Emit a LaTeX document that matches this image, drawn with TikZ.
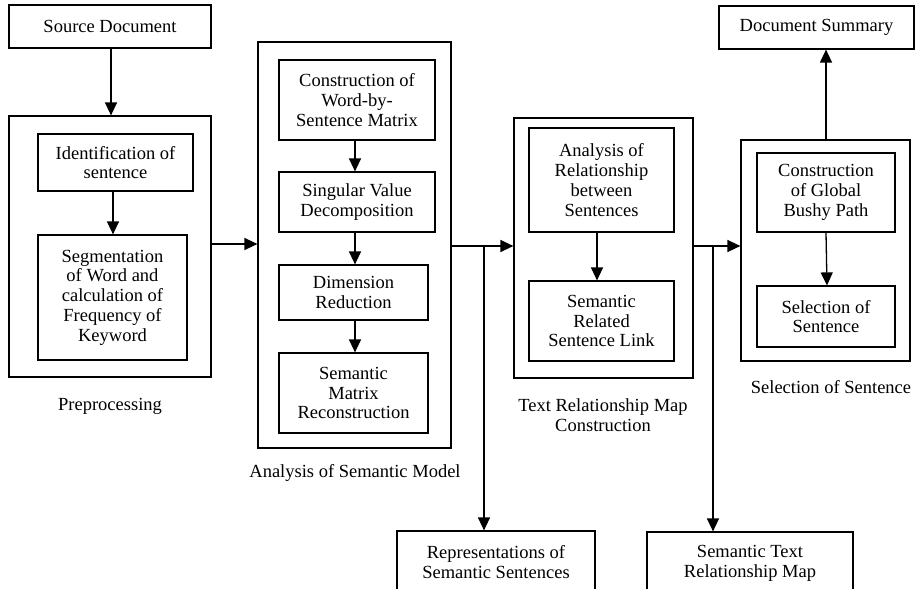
\documentclass[tikz,border=0pt]{standalone}
\usepackage{fontspec}
\setmainfont{Liberation Serif}
\usetikzlibrary{arrows.meta}
\tikzset{
  box/.style={draw, line width=1.2pt, inner sep=0pt, align=center, font=\fontsize{18.5}{19.8}\selectfont},
  lbl/.style={inner sep=0pt, align=center, font=\fontsize{18.5}{19.8}\selectfont},
  arr/.style={line width=1.3pt, -{Triangle[length=13pt,width=12pt]}},
  ln/.style={line width=1.3pt}
}
\begin{document}
\begin{tikzpicture}[x=1pt,y=-1pt]
\useasboundingbox (0,0) rectangle (916,589);
% column 1
\node[box, minimum width=202pt, minimum height=43pt] (src) at (110,26.5) {Source Document};
\node[box, minimum width=202pt, minimum height=261pt] (pre) at (110,246.5) {};
\node[box, minimum width=155pt, minimum height=57pt] (ident) at (115.5,162.5) {Identification of\\sentence};
\node[box, minimum width=149pt, minimum height=125pt] (seg) at (112.5,297.5) {Segmentation\\of Word and\\calculation of\\Frequency of\\Keyword};
\node[lbl] (prel) at (110,406) {Preprocessing};
% column 2
\node[box, minimum width=193pt, minimum height=406pt] (ana) at (354.5,245) {};
\node[box, minimum width=156pt, minimum height=80pt] (cwm) at (357,100) {Construction of\\Word-by-\\Sentence Matrix};
\node[box, minimum width=156pt, minimum height=60pt] (svd) at (357,202) {Singular Value\\Decomposition};
\node[box, minimum width=149pt, minimum height=55pt] (dim) at (353.5,292.5) {Dimension\\Reduction};
\node[box, minimum width=149pt, minimum height=80pt] (smr) at (353.5,393) {Semantic\\Matrix\\Reconstruction};
\node[lbl] (anal) at (355,473) {Analysis of Semantic Model};
% column 3
\node[box, minimum width=179pt, minimum height=260pt] (trm) at (603.5,248) {};
\node[box, minimum width=145pt, minimum height=104pt] (arb) at (601.5,180) {Analysis of\\Relationship\\between\\Sentences};
\node[box, minimum width=145pt, minimum height=80pt] (srl) at (601.5,321) {Semantic\\Related\\Sentence Link};
\node[lbl] (trml) at (603,415) {Text Relationship Map\\Construction};
% column 4
\node[box, minimum width=169pt, minimum height=221pt] (sos) at (825.5,250.5) {};
\node[box, minimum width=138pt, minimum height=79pt] (cgb) at (826,192.5) {Construction\\of Global\\Bushy Path};
\node[box, minimum width=138pt, minimum height=61pt] (sel) at (826,316.5) {Selection of\\Sentence};
\node[lbl] (sosl) at (831,387) {Selection of Sentence};
\node[box, minimum width=195pt, minimum height=43pt] (sum) at (816.5,27.5) {Document Summary};
% bottom
\node[box, minimum width=198pt, minimum height=62pt] (rep) at (496,562) {Representations of\\Semantic Sentences};
\node[box, minimum width=206pt, minimum height=62pt] (stm) at (750,563) {Semantic Text\\Relationship Map};
% connectors
\draw[arr] (src.south -| 111,0) -- (pre.north -| 111,0);
\draw[arr] (ident.south -| 113,0) -- (seg.north -| 113,0);
\draw[arr] (pre.east |- 0,244) -- (ana.west |- 0,244);
\draw[arr] (cwm.south -| 355,0) -- (svd.north -| 355,0);
\draw[arr] (svd.south -| 355,0) -- (dim.north -| 355,0);
\draw[arr] (dim.south -| 355,0) -- (smr.north -| 355,0);
\draw[arr] (ana.east |- 0,246) -- (trm.west |- 0,246);
\coordinate (b1) at (484,246);
\draw[arr] (b1) -- (rep.north -| b1);
\draw[arr] (arb.south -| 597,0) -- (srl.north -| 597,0);
\draw[arr] (trm.east |- 0,246) -- (sos.west |- 0,246);
\coordinate (b2) at (713,246);
\draw[arr] (b2) -- (stm.north -| b2);
\draw[arr] (cgb.south -| 826,0) -- (sel.north -| 827,0);
\draw[arr] (sos.north -| 826,0) -- (sum.south -| 826,0);
\end{tikzpicture}
\end{document}
